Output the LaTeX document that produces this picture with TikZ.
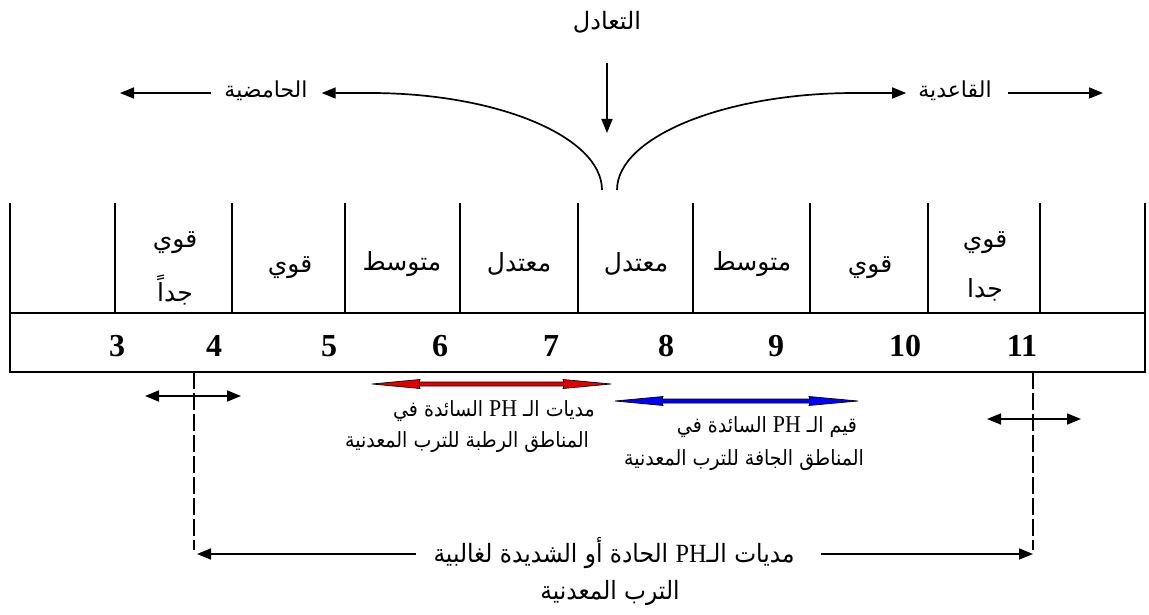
\documentclass[tikz,border=0pt]{standalone}
\usepackage{fontspec}
\setmainfont{Liberation Serif}
\newfontfamily\arabicfont[Script=Arabic]{DejaVu Sans}
\TeXXeTstate=1
\usetikzlibrary{arrows.meta}
\newcommand{\phsmall}{\beginL{\rmfamily\mdseries\fontsize{23}{26}\selectfont PH}\endL}
\newcommand{\phbig}{\beginL{\rmfamily\mdseries\fontsize{25}{28}\selectfont PH}\endL}
\begin{document}
\begin{tikzpicture}[x=1pt,y=-1pt,
  boxline/.style={line width=2.4pt},
  conn/.style={line width=1.7pt},
  lab/.style={font=\arabicfont\fontsize{25}{28}\selectfont, inner sep=0pt},
  toplab/.style={font=\arabicfont\fontsize{22}{26}\selectfont, inner sep=0pt},
  smalllab/.style={font=\arabicfont\fontsize{20}{24}\selectfont, inner sep=0pt, xscale=0.95, yscale=1.05},
  botlab/.style={font=\arabicfont\fontsize{24}{28}\selectfont, inner sep=0pt, xscale=0.97, yscale=1.05},
  num/.style={font=\bfseries\fontsize{32}{34}\selectfont, inner sep=0pt},
  tipr/.style={-{Triangle[length=14pt,width=11pt]}},
  tipboth/.style={{Triangle[length=14pt,width=11pt]}-{Triangle[length=14pt,width=11pt]}},
  dashv/.style={line width=1.2pt, dash pattern=on 17pt off 4pt},
  redarrow/.style={draw=black, fill=red!90!black, line width=0.7pt},
  bluearrow/.style={draw=black, fill=blue, line width=0.7pt}
]
\useasboundingbox (0,0) rectangle (1149,615);

% ---- top part
\node[toplab, font=\arabicfont\fontsize{24}{28}\selectfont] (eq) at (607,22) {\beginR التعادل\endR};
\coordinate (eqa) at (607,63);
\coordinate (eqb) at (607,133);
\draw[conn,tipr] (eqa) -- (eqb);

\node[toplab] (acid) at (266,91) {\beginR الحامضية\endR};
\coordinate (acidL) at (120,93);
\coordinate (curveLa) at (602,190);
\coordinate (curveLb) at (370,93);
\draw[conn,tipr] (curveLa) .. controls (602,137) and (498,93) .. (curveLb) -- ([xshift=14pt]acid.east|-curveLb);
\draw[conn,tipr] ([xshift=-13pt]acid.west|-curveLb) -- (acidL);

\node[toplab] (base) at (955,91) {\beginR القاعدية\endR};
\coordinate (baseR) at (1103,93);
\coordinate (curveRa) at (617,190);
\coordinate (curveRb) at (855,93);
\draw[conn,tipr] (curveRa) .. controls (617,137) and (725,93) .. (curveRb) -- ([xshift=-12pt]base.west|-curveRb);
\draw[conn,tipr] ([xshift=16pt]base.east|-curveRb) -- (baseR);

% ---- scale box
\coordinate (tl) at (10,203);
\coordinate (bl) at (10,372);
\coordinate (tr) at (1145,203);
\coordinate (br) at (1145,372);
\draw[boxline] (tl) -- (bl) -- (br) -- (tr);
\draw[boxline] (10,313) -- (1145,313);
\foreach \x in {115,232,345,460,578,693,810,928,1040}
  \draw[boxline] (\x,203) -- (\x,313);

\node[lab] (c1a) at (175,243) {\beginR قوي\endR};
\node[lab] (c1b) at (175,290) {\beginR جداً\endR};
\node[lab] (c2) at (290,268) {\beginR قوي\endR};
\node[lab] (c3) at (402,264) {\beginR متوسط\endR};
\node[lab] (c4) at (519,264) {\beginR معتدل\endR};
\node[lab] (c5) at (636,264) {\beginR معتدل\endR};
\node[lab] (c6) at (752,264) {\beginR متوسط\endR};
\node[lab] (c7) at (870,268) {\beginR قوي\endR};
\node[lab] (c8a) at (985,243) {\beginR قوي\endR};
\node[lab] (c8b) at (985,290) {\beginR جدا\endR};

\node[num] (n3) at (117,346) {3};
\node[num] (n4) at (214,346) {4};
\node[num] (n5) at (329,346) {5};
\node[num] (n6) at (440,346) {6};
\node[num] (n7) at (551,346) {7};
\node[num] (n8) at (666,346) {8};
\node[num] (n9) at (776,346) {9};
\node[num] (n10) at (905,346) {10};
\node[num] (n11) at (1022,346) {11};

% ---- lower part
\coordinate (dLt) at (194,372);
\coordinate (dLb) at (194,550);
\coordinate (dRt) at (1033,372);
\coordinate (dRb) at (1033,550);
\draw[dashv] (dLt) -- (dLb);
\draw[dashv] (dRt) -- (dRb);

\coordinate (aLa) at (145,396);
\coordinate (aLb) at (241,396);
\draw[conn,tipboth] (aLa) -- (aLb);
\coordinate (aRa) at (987,419);
\coordinate (aRb) at (1081,419);
\draw[conn,tipboth] (aRa) -- (aRb);

% red double arrow
\draw[redarrow] (372,384) -- (420,379.5) -- (419,382) -- (564,382) -- (563,379.5) -- (611,384)
  -- (563,388.5) -- (564,386) -- (419,386) -- (420,388.5) -- cycle;
% blue double arrow
\draw[bluearrow] (615,401) -- (663,396.5) -- (662,399) -- (810,399) -- (809,396.5) -- (858,401)
  -- (809,405.5) -- (810,403) -- (662,403) -- (663,405.5) -- cycle;

\node[smalllab] (r1) at (494,411) {\beginR مديات الـ \phsmall{} السائدة في\endR};
\node[smalllab] (r2) at (467,442) {\beginR المناطق الرطبة للترب المعدنية\endR};
\node[smalllab] (b1) at (767,427) {\beginR قيم الـ \phsmall{} السائدة في\endR};
\node[smalllab] (b2) at (744,460) {\beginR المناطق الجافة للترب المعدنية\endR};

\node[botlab] (bt1) at (614,553) {\beginR مديات الـ\phbig{} الحادة أو الشديدة لغالبية\endR};
\node[botlab] (bt2) at (610,593) {\beginR الترب المعدنية\endR};
\coordinate (bLa) at (416,554);
\coordinate (bLb) at (197,554);
\coordinate (bRa) at (821,554);
\coordinate (bRb) at (1033,554);
\draw[conn,tipr] (bLa) -- (bLb);
\draw[conn,tipr] (bRa) -- (bRb);
\end{tikzpicture}
\end{document}
